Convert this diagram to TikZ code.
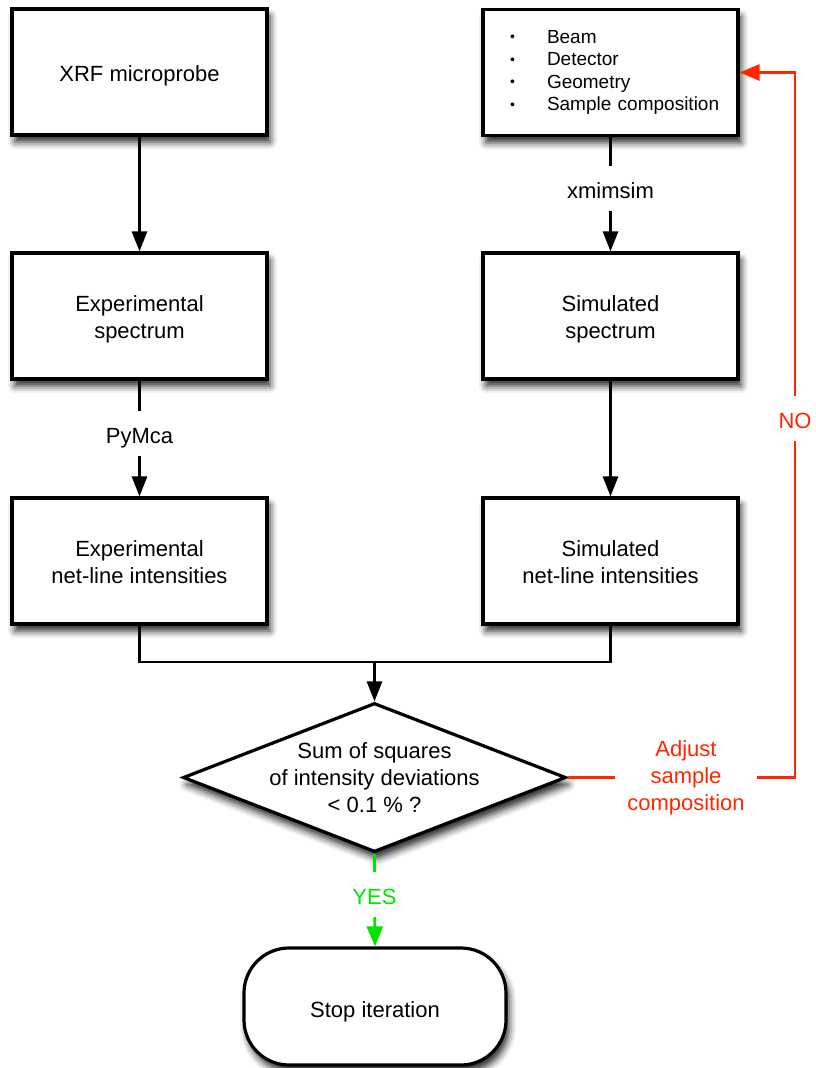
\documentclass[tikz,border=0pt]{standalone}
\usepackage{fontspec}
\setmainfont{Liberation Sans}
\usetikzlibrary{arrows.meta,shapes.geometric,shadows.blur}
\definecolor{flowred}{RGB}{255,38,0}
\definecolor{flowgreen}{RGB}{0,228,0}
\newcommand{\listdot}{\makebox[37pt][l]{\raisebox{1.5pt}{\fontsize{14}{14}\selectfont\textbullet}}}
\begin{document}
\begin{tikzpicture}[x=1pt,y=-1pt,
  basefont/.style={font=\fontsize{22}{27}\selectfont},
  softshadow/.style={blur shadow={shadow xshift=3pt,shadow yshift=-7pt,shadow blur radius=7pt,shadow opacity=85}},
  procbox/.style={draw,line width=3.2pt,fill=white,minimum width=255pt,minimum height=126pt,
    inner sep=0pt,align=center,basefont,softshadow},
  oneline/.style={text height=19.4pt,text depth=0pt},
  twoline/.style={text height=45.5pt,text depth=0pt},
  decision/.style={diamond,draw,line width=3.2pt,fill=white,minimum width=383pt,minimum height=149pt,
    inner sep=0pt,softshadow},
  terminal/.style={rectangle,rounded corners=45pt,draw,line width=3.2pt,fill=white,
    minimum width=262pt,minimum height=117pt,inner sep=0pt,basefont,softshadow,
    text height=21pt,text depth=0pt},
  edgelabel/.style={basefont,inner sep=0pt,text height=32pt,text depth=13pt,anchor=base},
  flow/.style={line width=2.7pt},
  flowarrow/.style={flow,-{Triangle[length=20pt,width=15pt]}},
  redarrow/.style={flow,flowred,-{Triangle[length=20pt,width=16pt]}},
  greenarrow/.style={flow,flowgreen,-{Triangle[length=20pt,width=16pt]}},
]
\useasboundingbox (0,0) rectangle (815,1068);

% left column: measurement chain
\node[procbox,oneline] (xrf) at (139.5,72) {XRF microprobe};
\node[procbox,twoline] (expspec) at (139.5,316) {Experimental\\spectrum};
\node[procbox,twoline] (expnet) at (139.5,561) {Experimental\\net-line intensities};

% right column: simulation chain
\node[procbox,text width=255pt,align=left,font=\fontsize{19}{22.6}\selectfont] (params) at (610.5,72.5)
  {\hspace*{27pt}\listdot Beam\\
   \hspace*{27pt}\listdot Detector\\
   \hspace*{27pt}\listdot Geometry\\
   \hspace*{27pt}\listdot Sample composition};
\node[procbox,twoline] (simspec) at (610.5,316) {Simulated\\spectrum};
\node[procbox,twoline] (simnet) at (610.5,561) {Simulated\\net-line intensities};

% labels on the connectors
\node[edgelabel] (pymca) at (139.5,443) {PyMca};
\node[edgelabel] (xmim) at (610.5,198) {xmimsim};
\node[edgelabel,text=flowred] (no) at (795,428) {NO};
\node[edgelabel,text=flowgreen] (yes) at (374.5,904) {YES};

% convergence test and end
\node[decision] (dec) at (374.5,777.5) {};
\node[basefont,align=center,inner sep=0pt] (dectext) at (dec.center)
  {Sum of squares\\of intensity deviations\\< 0.1 \% ?};
\node[basefont,text=flowred,align=center,inner xsep=12pt,inner ysep=0pt] (adjust) at (686,777.5)
  {Adjust\\sample\\composition};
\node[terminal] (stop) at (375,1006.5) {Stop iteration};

% connectors
\draw[flowarrow] (xrf) -- (expspec);
\draw[flow] (expspec) -- (pymca);
\draw[flowarrow] (pymca) -- (expnet);
\draw[flow] (params) -- (xmim);
\draw[flowarrow] (xmim) -- (simspec);
\draw[flowarrow] (simspec) -- (simnet);
\coordinate (join) at (374.5,662);
\draw[flow] (expnet.south) |- (join) -| (simnet.south);
\draw[flowarrow] (join) -- (dec.north);

\draw[flow,flowgreen] (dec.south) -- (yes);
\draw[greenarrow] (yes) -- (stop.north);

\draw[flow,flowred] (dec.east) -- (adjust.west);
\draw[flow,flowred] (adjust.east) -| (no.south);
\draw[redarrow] (no.north) |- (params.east);
\end{tikzpicture}
\end{document}
